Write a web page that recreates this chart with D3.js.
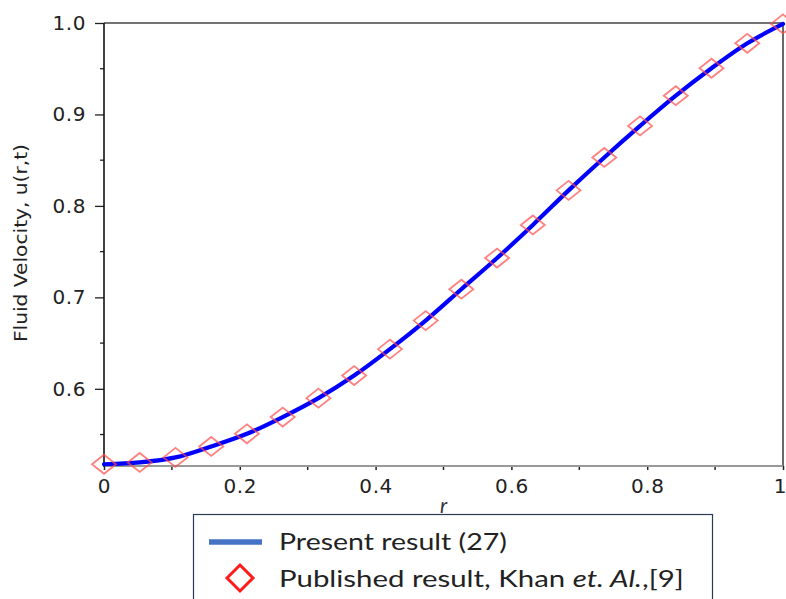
<!DOCTYPE html>
<html>
<head>
<meta charset="utf-8">
<script src="https://cdn.jsdelivr.net/npm/d3@7"></script>
<style>
  html, body { margin: 0; padding: 0; background: #fff; }
  svg { display: block; }
</style>
</head>
<body>
<svg id="chart" width="786" height="599"></svg>
<script>
// Radial positions r (20 evenly spaced samples on [0, 1])
const rValues = [0, 0.0526, 0.1053, 0.1579, 0.2105, 0.2632, 0.3158, 0.3684, 0.4211, 0.4737,
                 0.5263, 0.5789, 0.6316, 0.6842, 0.7368, 0.7895, 0.8421, 0.8947, 0.9474, 1.0];
// Fluid velocity u(r,t), present result (27)
const presentU = [0.5175, 0.5195, 0.525, 0.537, 0.5508, 0.5691, 0.5898, 0.6145, 0.6434, 0.6746,
                  0.7089, 0.743, 0.7792, 0.8170, 0.8530, 0.8875, 0.9205, 0.9505, 0.9778, 0.999];
// Fluid velocity u(r,t), published result (Khan et al. [9])
const publishedU = [0.5175, 0.5195, 0.525, 0.537, 0.5508, 0.5691, 0.5898, 0.6145, 0.6434, 0.6746,
                    0.7089, 0.743, 0.7792, 0.8170, 0.8530, 0.8875, 0.9205, 0.9505, 0.9778, 0.999];
const xTicks = [0, 0.2, 0.4, 0.6, 0.8, 1];
const xTickLabels = ["0", "0.2", "0.4", "0.6", "0.8", "1"];
const yTicks = [0.6, 0.7, 0.8, 0.9, 1.0];
const yTickLabels = ["0.6", "0.7", "0.8", "0.9", "1.0"];
const xMinorTicks = [0.1, 0.3, 0.5, 0.7, 0.9];
const yMinorTicks = [0.55, 0.65, 0.75, 0.85, 0.95];
const legendLabels = ["Present result (27)", "Published result, Khan ", "et. Al.", ",[9]"];

const svg = d3.select("#chart");
const plot = { left: 104, right: 783, top: 23, bottom: 466 };

const x = d3.scaleLinear().domain([0, 1]).range([plot.left, plot.right]);
const y = d3.scaleLinear().domain([0.5156, 1.0]).range([plot.bottom, plot.top]);

const tickFont = "'DejaVu Sans', Verdana, sans-serif";

// Y axis (left), major and minor ticks
const yAxis = svg.append("g")
  .attr("transform", `translate(${plot.left},0)`)
  .call(d3.axisLeft(y).tickValues(yTicks).tickSize(9).tickPadding(9)
        .tickFormat((d, i) => yTickLabels[i]));
yAxis.select(".domain").remove();
yAxis.selectAll(".tick line").attr("stroke", "#222").attr("stroke-width", 1.3);
yAxis.selectAll(".tick text").attr("fill", "#222")
  .style("font-family", tickFont).style("font-size", "20px").style("letter-spacing", "0.6px");

svg.append("g").selectAll("line").data(yMinorTicks).join("line")
  .attr("x1", plot.left - 4).attr("x2", plot.left)
  .attr("y1", d => y(d)).attr("y2", d => y(d))
  .attr("stroke", "#222").attr("stroke-width", 1.3);

// X axis (bottom), major and minor ticks
const xAxis = svg.append("g")
  .attr("transform", `translate(0,${plot.bottom})`)
  .call(d3.axisBottom(x).tickValues(xTicks).tickSize(4).tickPadding(9)
        .tickFormat((d, i) => xTickLabels[i]));
xAxis.select(".domain").remove();
xAxis.selectAll(".tick line").attr("stroke", "#222").attr("stroke-width", 1.5);
xAxis.selectAll(".tick text").attr("fill", "#222")
  .style("font-family", tickFont).style("font-size", "20px").style("letter-spacing", "0.6px")
  .attr("dx", d => (d === 1 ? -3 : 0));

svg.append("g").selectAll("line").data(xMinorTicks).join("line")
  .attr("x1", d => x(d)).attr("x2", d => x(d))
  .attr("y1", plot.bottom).attr("y2", plot.bottom + 4)
  .attr("stroke", "#222").attr("stroke-width", 1.5);

// Plot frame
svg.append("line").attr("x1", plot.left).attr("x2", plot.right)
  .attr("y1", plot.top).attr("y2", plot.top).attr("stroke", "#444").attr("stroke-width", 1.6);
svg.append("line").attr("x1", plot.right).attr("x2", plot.right)
  .attr("y1", plot.top).attr("y2", plot.bottom).attr("stroke", "#444").attr("stroke-width", 1.6);
svg.append("line").attr("x1", plot.left).attr("x2", plot.right)
  .attr("y1", plot.bottom).attr("y2", plot.bottom).attr("stroke", "#999").attr("stroke-width", 2.2);
svg.append("line").attr("x1", plot.left).attr("x2", plot.left)
  .attr("y1", plot.top).attr("y2", plot.bottom + 1).attr("stroke", "#111").attr("stroke-width", 1.6);

// Axis titles
svg.append("text")
  .attr("x", x(0.5)).attr("y", 513)
  .attr("text-anchor", "middle")
  .style("font-family", "Lato, 'Open Sans', sans-serif").style("font-style", "italic")
  .style("font-size", "21px").attr("fill", "#333")
  .text("r");

svg.append("text")
  .attr("transform", `translate(27,243) rotate(-90)`)
  .attr("text-anchor", "middle")
  .attr("textLength", 198).attr("lengthAdjust", "spacingAndGlyphs")
  .style("font-family", tickFont).style("font-size", "18px").attr("fill", "#222")
  .text("Fluid Velocity,  u(r,t)");

// Data
const pts = rValues.map((r, i) => ({ r, u: presentU[i] }));
const pubPts = rValues.map((r, i) => ({ r, u: publishedU[i] }));

const line = d3.line().x(d => x(d.r)).y(d => y(d.u)).curve(d3.curveMonotoneX);

svg.append("path").datum(pts)
  .attr("d", line)
  .attr("fill", "none").attr("stroke", "#0000ff").attr("stroke-width", 4.2)
  .attr("stroke-linejoin", "round").attr("stroke-linecap", "round");

// Diamond markers (wider than tall)
const diamond = (cx, cy, w, h) =>
  `M${cx - w / 2},${cy} L${cx},${cy - h / 2} L${cx + w / 2},${cy} L${cx},${cy + h / 2} Z`;

svg.append("g").selectAll("path").data(pubPts).join("path")
  .attr("d", d => diamond(x(d.r), y(d.u), 24, 19))
  .attr("fill", "none").attr("stroke", "#ff4a4a").attr("stroke-opacity", 0.7)
  .attr("stroke-width", 1.8);

// Legend
const legend = svg.append("g");
legend.append("rect")
  .attr("x", 193.5).attr("y", 514.5).attr("width", 519).attr("height", 100)
  .attr("fill", "#fff").attr("stroke", "#2b3a55").attr("stroke-width", 1.2);

legend.append("line")
  .attr("x1", 209).attr("x2", 262).attr("y1", 542).attr("y2", 542)
  .attr("stroke", "#4472c4").attr("stroke-width", 5.5);

const legendFont = "Lato, 'Open Sans', sans-serif";
// Stretch a legend entry horizontally to a given width
function fitWidth(sel, baseX, baseY, width) {
  const w = sel.node().getComputedTextLength();
  sel.attr("transform", `translate(${baseX},${baseY}) scale(${width / w},1)`);
}

const t1 = legend.append("text")
  .style("font-family", legendFont).style("font-size", "23px").attr("fill", "#222")
  .text(legendLabels[0]);
fitWidth(t1, 279, 550, 228);

legend.append("path")
  .attr("d", diamond(240, 578, 26, 26))
  .attr("fill", "none").attr("stroke", "#ff1a1a").attr("stroke-width", 3);

const t2 = legend.append("text")
  .style("font-family", legendFont).style("font-size", "23px").attr("fill", "#222");
t2.append("tspan").text(legendLabels[1]);
t2.append("tspan").style("font-style", "italic").text(legendLabels[2]);
t2.append("tspan").text(legendLabels[3]);
fitWidth(t2, 279, 587, 405);
</script>
</body>
</html>
